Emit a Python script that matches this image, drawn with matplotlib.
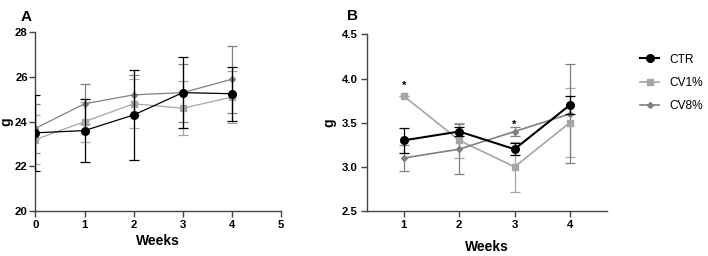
import matplotlib
matplotlib.use("Agg")
import matplotlib.pyplot as plt
from matplotlib.lines import Line2D

plt.rcParams['font.family'] = ['Liberation Sans', 'DejaVu Sans']

groups = ["CTR", "CV1%", "CV8%"]
colors = {"CTR": "#000000", "CV1%": "#a6a6a6", "CV8%": "#808080"}
markers = {"CTR": "o", "CV1%": "s", "CV8%": "D"}
msizes = {"CTR": 5.5, "CV1%": 5.0, "CV8%": 3.0}

# Panel A
weeks_a = [0, 1, 2, 3, 4]
a_mean = {"CTR": [23.5, 23.6, 24.3, 25.3, 25.25],
          "CV1%": [23.2, 24.0, 24.8, 24.6, 25.1],
          "CV8%": [23.7, 24.8, 25.2, 25.3, 25.9]}
a_sd = {"CTR": [1.7, 1.4, 2.0, 1.6, 1.2],
        "CV1%": [1.1, 0.9, 1.1, 1.2, 1.15],
        "CV8%": [1.1, 0.9, 0.9, 1.3, 1.5]}

# Panel B
weeks_b = [1, 2, 3, 4]
b_mean = {"CTR": [3.3, 3.4, 3.2, 3.7],
          "CV1%": [3.8, 3.3, 3.0, 3.5],
          "CV8%": [3.1, 3.2, 3.4, 3.6]}
b_sd = {"CTR": [0.14, 0.05, 0.07, 0.1],
        "CV1%": [0.0, 0.2, 0.28, 0.39],
        "CV8%": [0.15, 0.28, 0.05, 0.56]}
star_weeks = [1, 3]
star_vals = [3.92, 3.47]

fig = plt.figure(figsize=(7.08, 2.56), dpi=100)
axA = fig.add_axes([0.0501, 0.1758, 0.3468, 0.698])
axB = fig.add_axes([0.5184, 0.1758, 0.3386, 0.690])

order = ["CV1%", "CV8%", "CTR"]

def draw(ax, x, means, sds, thick):
    for g in order:
        if thick:
            lw = 1.5 if g == "CTR" else 1.2
        else:
            lw = 0.9
        ax.errorbar(x, means[g], yerr=sds[g], color=colors[g], marker=markers[g],
                    ms=msizes[g], lw=lw, elinewidth=0.9, capsize=3.5, capthick=0.9,
                    zorder=3 if g == "CTR" else 2)

draw(axA, weeks_a, a_mean, a_sd, False)
draw(axB, weeks_b, b_mean, b_sd, True)

for ax in (axA, axB):
    for s in ("top", "right"):
        ax.spines[s].set_visible(False)
    for s in ("left", "bottom"):
        ax.spines[s].set_color("#444444")
        ax.spines[s].set_linewidth(1.0)
    ax.tick_params(direction="out", length=4, width=1.0, color="#444444",
                   labelsize=8.2, pad=2.5)
axA.tick_params(axis="y", pad=1.5)

axA.set_xlim(0, 5)
axA.set_ylim(20, 28)
axA.set_xticks([0, 1, 2, 3, 4, 5])
axA.set_yticks([20, 22, 24, 26, 28])
axA.set_xlabel("Weeks", fontsize=10, fontweight="bold", va="center")
axA.set_ylabel("g", fontsize=10, fontweight="bold", va="center")
axA.xaxis.set_label_coords(0.5, -0.168)
axA.yaxis.set_label_coords(-0.118, 0.5)

axB.set_xlim(1 / 3, 14 / 3)
axB.set_ylim(2.5, 4.5)
axB.set_xticks(weeks_b)
axB.set_yticks([2.5, 3.0, 3.5, 4.0, 4.5])
axB.set_yticklabels(["2.5", "3.0", "3.5", "4.0", "4.5"])
axB.set_xlabel("Weeks", fontsize=10, fontweight="bold", va="center")
axB.set_ylabel("g", fontsize=10, fontweight="bold", va="center")
axB.xaxis.set_label_coords(0.5, -0.204)
axB.yaxis.set_label_coords(-0.156, 0.5)

for ax in (axA, axB):
    for lab in ax.get_xticklabels() + ax.get_yticklabels():
        lab.set_fontweight("bold")

for wx, wy in zip(star_weeks, star_vals):
    axB.text(wx, wy, "*", ha="center", va="center", fontsize=8, fontweight="bold")

fig.text(21 / 708, 1 - 17 / 256, "A", fontsize=11, fontweight="bold", va="center")
fig.text(347 / 708, 1 - 16 / 256, "B", fontsize=11, fontweight="bold", va="center")

handles = [Line2D([], [], color=colors[g], marker=markers[g], ms=msizes[g],
                  lw=1.5 if g == "CTR" else 1.2) for g in groups]
fig.legend(handles, groups, loc="center left", bbox_to_anchor=(640 / 708, 1 - 83 / 256),
           frameon=False, fontsize=8.6, handlelength=1.6, handletextpad=0.9,
           labelspacing=0.95, borderaxespad=0, borderpad=0)

fig.savefig("out.png", dpi=100)
